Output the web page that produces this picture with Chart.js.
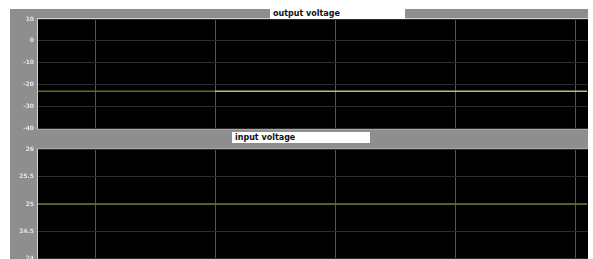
<!DOCTYPE html>
<html>
<head>
<meta charset="utf-8">
<script src="https://cdn.jsdelivr.net/npm/chart.js@4.4.1/dist/chart.umd.min.js"></script>
<style>
  body { margin: 0; background: #fff; width: 593px; height: 259px; overflow: hidden; position: relative; font-family: "DejaVu Sans", sans-serif; }
  #panel { position: absolute; left: 10px; top: 9px; width: 578px; height: 250px; background: #8e8e8e; }
  .scope { position: absolute; left: 10px; width: 578px; }
  #outBox { top: 9px; height: 127px; }
  #inBox { top: 142px; height: 124px; }
  .title { position: absolute; background: #fff; color: #111; font-size: 8px; font-weight: bold; line-height: 10px; padding-left: 3px; box-sizing: border-box; }
  #outTitle { left: 270px; top: 9px; width: 135px; height: 10px; }
  #inTitle { left: 232px; top: 132px; width: 138px; height: 11px; line-height: 11px; }
</style>
</head>
<body>
<div id="panel"></div>
<div class="scope" id="outBox"><canvas id="outChart"></canvas></div>
<div class="scope" id="inBox"><canvas id="inChart"></canvas></div>
<div class="title" id="outTitle">output voltage</div>
<div class="title" id="inTitle">input voltage</div>
<script>
// sample times (s)
const time = [0, 1.5, 4.6];
// output voltage (V)
const outputVoltage = [-23, -23, -23];
// input voltage (V)
const inputVoltage = [25, 25, 25];
// axis ticks
const timeGrid = [0.5, 1.5, 2.5, 3.5, 4.5];
const outTicks = [10, 0, -10, -20, -30, -40];
const inTicks = [26, 25.5, 25, 24.5, 24];

const blackArea = {
    id: 'blackArea',
    beforeDraw(chart) {
        const { ctx, chartArea: a } = chart;
        ctx.save();
        ctx.fillStyle = '#000';
        ctx.fillRect(a.left, a.top, a.right - a.left, a.bottom - a.top);
        ctx.strokeStyle = '#cfcfcf';
        ctx.lineWidth = 1;
        ctx.strokeRect(a.left - 0.5, a.top - 0.5, a.right - a.left + 1, a.bottom - a.top + 1);
        ctx.restore();
    }
};

function makeScope(id, values, ticks, colors, padTop, padBottom) {
    const ctx = document.getElementById(id).getContext('2d');
    return new Chart(ctx, {
        type: 'line',
        data: {
            datasets: [{
                data: time.map((t, i) => ({ x: t, y: values[i] })),
                borderWidth: 1.4,
                pointRadius: 0,
                borderColor: colors[0],
                segment: {
                    borderColor: c => c.p0DataIndex === 0 ? colors[0] : colors[1],
                },
            }]
        },
        options: {
            responsive: true,
            maintainAspectRatio: false,
            animation: false,
            layout: { padding: { top: padTop, bottom: padBottom, left: 0, right: 0 } },
            plugins: { legend: { display: false }, tooltip: { enabled: false } },
            scales: {
                x: {
                    type: 'linear',
                    min: 0.025,
                    max: 4.608,
                    afterBuildTicks: s => { s.ticks = timeGrid.map(v => ({ value: v })); },
                    afterFit: s => { s.height = 0; },
                    ticks: { display: false },
                    border: { display: false },
                    grid: { color: '#555', lineWidth: 1, drawTicks: false },
                },
                y: {
                    min: ticks[ticks.length - 1],
                    max: ticks[0],
                    afterBuildTicks: s => { s.ticks = ticks.map(v => ({ value: v })); },
                    afterFit: s => { s.width = 28; },
                    border: { display: false },
                    grid: { color: '#2c2c2c', drawTicks: false },
                    ticks: {
                        color: '#e6e6e6',
                        padding: 4,
                        font: { family: 'DejaVu Sans', size: 6, weight: 'bold' },
                        callback: v => String(v),
                    },
                },
            },
        },
        plugins: [blackArea],
    });
}

makeScope('outChart', outputVoltage, outTicks, ['#6a6a14', '#bdbd78'], 10, 0);
makeScope('inChart', inputVoltage, inTicks, ['#77772a', '#77772a'], 2, 0);
</script>
</body>
</html>
